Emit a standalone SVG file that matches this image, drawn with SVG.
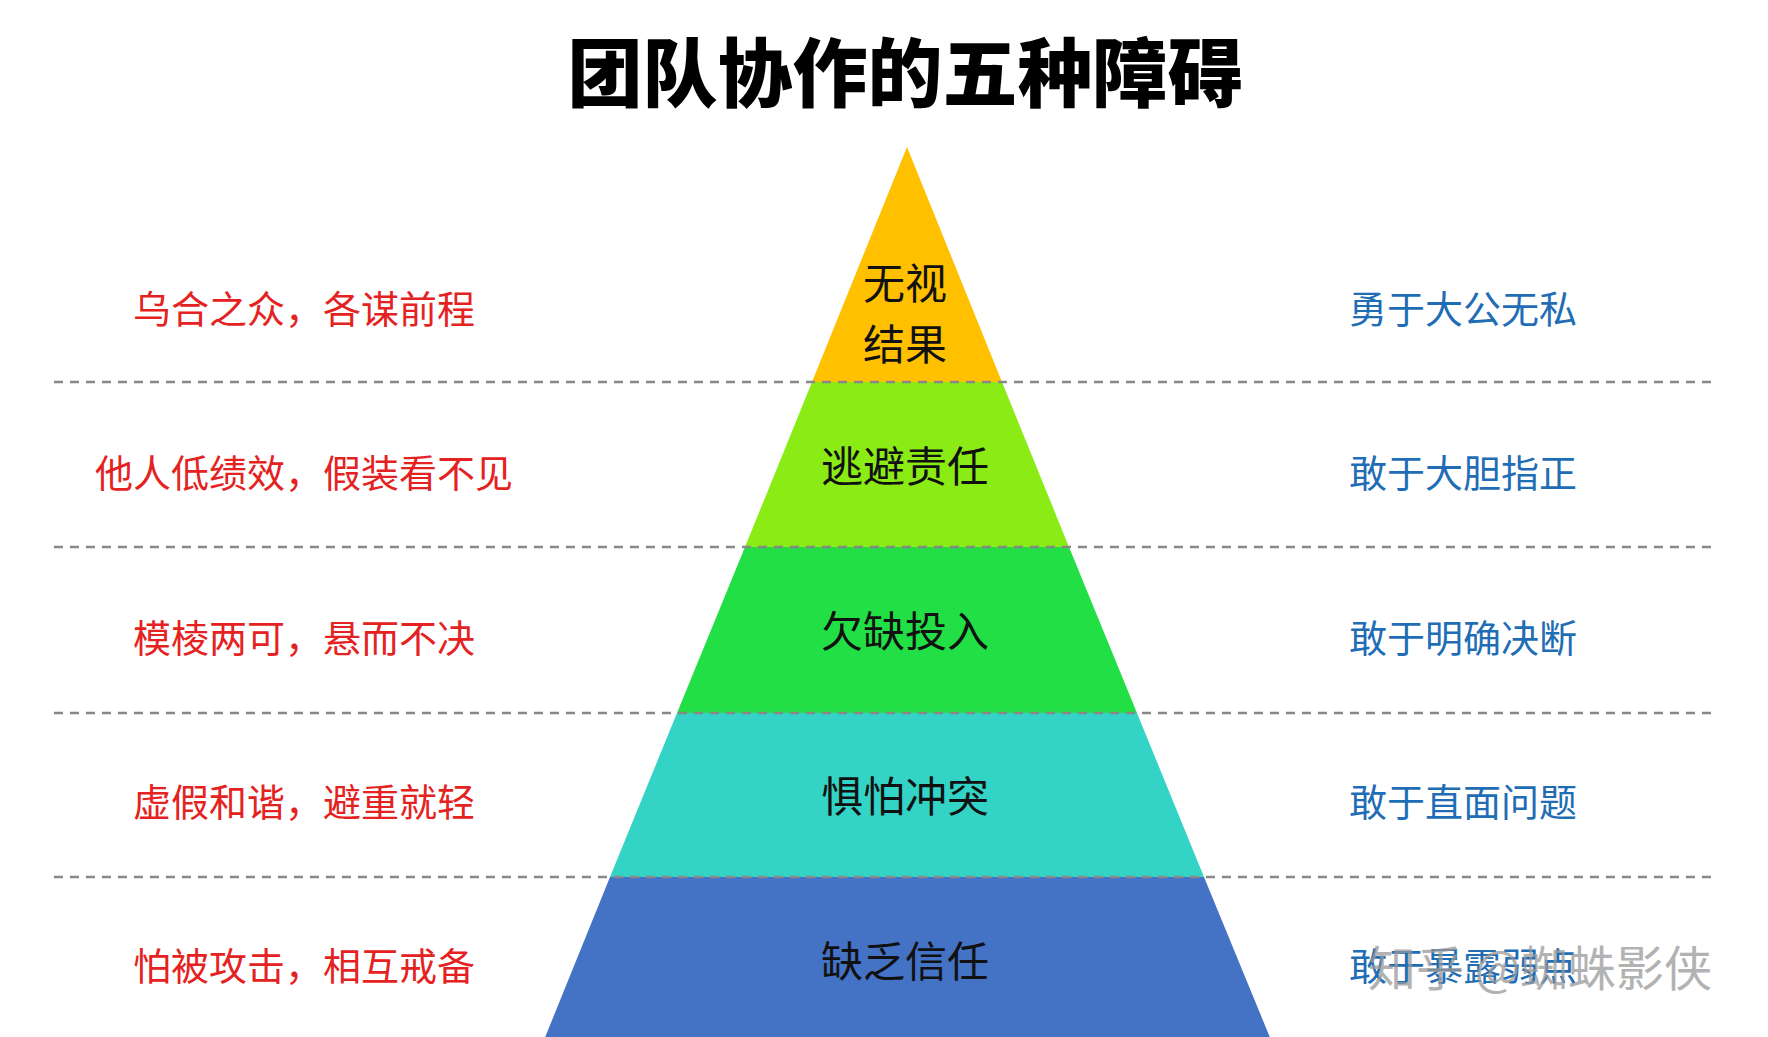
<svg xmlns="http://www.w3.org/2000/svg" width="1768" height="1037" viewBox="0 0 1768 1037">
<style>
text{font-family:"Noto Sans CJK SC","Noto Sans",sans-serif;text-anchor:middle;dominant-baseline:central}
.t{font-size:75px;font-weight:900;fill:#000}
.c{font-size:42px;fill:#111}
.l{font-size:38px;fill:#E52222}
.r{font-size:38px;fill:#1F6DB5}
.d{stroke:#888;stroke-width:2.5;stroke-dasharray:9,7;fill:none}
</style>
<rect width="1768" height="1037" fill="#fff"/>
<text class="t" x="905" y="68">团队协作的五种障碍</text>
<g id="level5"><polygon points="907,147 1002,382 812,382" fill="#FFC000"/><text class="c" x="905" y="280">无视</text><text class="c" x="905" y="341">结果</text></g>
<g id="level4"><polygon points="812,382 1002,382 1069,547 745,547" fill="#8BEB15"/><text class="c" x="905" y="463">逃避责任</text></g>
<g id="level3"><polygon points="745,547 1069,547 1137,713 677,713" fill="#22DF45"/><text class="c" x="905" y="628">欠缺投入</text></g>
<g id="level2"><polygon points="677,713 1137,713 1204,877 610,877" fill="#33D3C5"/><text class="c" x="905" y="793">惧怕冲突</text></g>
<g id="level1"><polygon points="610,877 1204,877 1271,1040 544,1040" fill="#4472C4"/><text class="c" x="905" y="958">缺乏信任</text></g>
<g id="connectors">
<line class="d" x1="54" y1="382" x2="1713" y2="382"/>
<line class="d" x1="54" y1="547" x2="1713" y2="547"/>
<line class="d" x1="54" y1="713" x2="1713" y2="713"/>
<line class="d" x1="54" y1="877" x2="1713" y2="877"/>
</g>
<g id="left">
<text class="l" x="304" y="306">乌合之众，各谋前程</text>
<text class="l" x="304" y="470">他人低绩效，假装看不见</text>
<text class="l" x="304" y="635">模棱两可，悬而不决</text>
<text class="l" x="304" y="799">虚假和谐，避重就轻</text>
<text class="l" x="304" y="963">怕被攻击，相互戒备</text>
</g>
<g id="right">
<text class="r" x="1463" y="306">勇于大公无私</text>
<text class="r" x="1463" y="470">敢于大胆指正</text>
<text class="r" x="1463" y="635">敢于明确决断</text>
<text class="r" x="1463" y="799">敢于直面问题</text>
<text class="r" x="1463" y="963">敢于暴露弱点</text>
</g>
<text x="1540" y="965" style="font-size:48px;fill:#999;opacity:0.75">知乎 @蜘蛛影侠</text>
</svg>
